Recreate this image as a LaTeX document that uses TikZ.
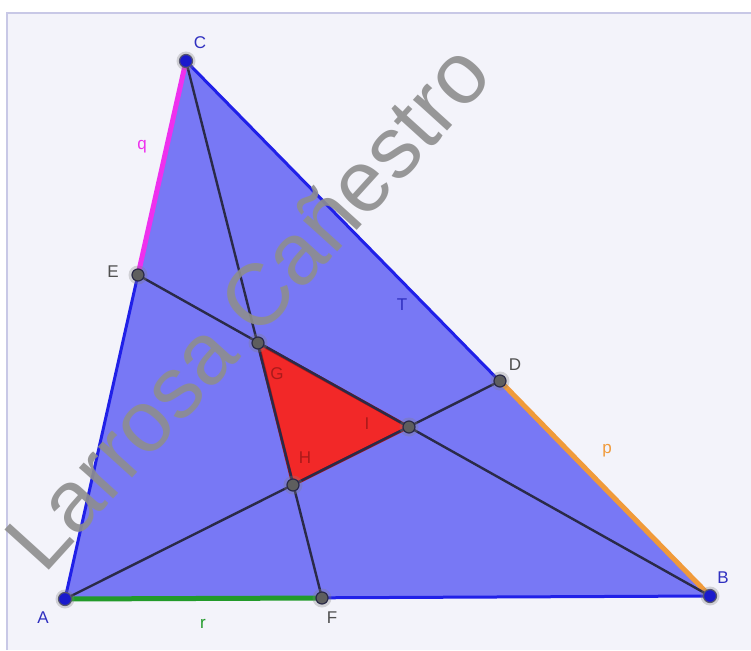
\documentclass[tikz,border=0pt]{standalone}
\usepackage{fontspec}
\setmainfont{Liberation Sans}
\usetikzlibrary{calc}
\definecolor{bgc}{HTML}{F3F3FA}
\definecolor{framec}{HTML}{C8C8E6}
\definecolor{trifill}{HTML}{7878F5}
\definecolor{triedge}{HTML}{2020E8}
\definecolor{segq}{HTML}{EE30EE}
\definecolor{segp}{HTML}{F09A3A}
\definecolor{segr}{HTML}{229A2A}
\definecolor{redfill}{HTML}{F22828}
\definecolor{rededge}{HTML}{B01818}
\definecolor{cevc}{HTML}{2A2A48}
\definecolor{ptblue}{HTML}{1A1ACC}
\definecolor{ptgray}{HTML}{5E5E5E}
\definecolor{lblblue}{HTML}{3030C0}
\definecolor{lblgray}{HTML}{505050}
\definecolor{wmc}{HTML}{8E8E8E}
\tikzset{
  lbl/.style={inner sep=0pt, font=\fontsize{17}{17}\selectfont},
  cev/.style={draw=cevc, line width=2.4pt},
  bpt/.style={circle, fill=ptblue, draw=cevc!80, line width=1.2pt, inner sep=0pt, minimum size=13pt},
  gpt/.style={circle, fill=ptgray, draw=cevc, line width=1.2pt, inner sep=0pt, minimum size=12pt},
  halo/.style={circle, fill=gray, opacity=0.3, inner sep=0pt, minimum size=19pt},
}
\begin{document}
\begin{tikzpicture}[x=1pt,y=-1pt]
\useasboundingbox (0,0) rectangle (751,650);
\fill[white] (0,0) rectangle (751,650);
\fill[bgc] (7,13) rectangle (751,650);
\draw[framec, line width=2pt] (7,650) -- (7,13) -- (751,13);
% coordinates
\coordinate (A) at (65,599);
\coordinate (B) at (710,596);
\coordinate (C) at (186,61);
\coordinate (D) at (500,381);
\coordinate (E) at (138,275);
\coordinate (F) at (322,598);
\coordinate (G) at (258,343);
\coordinate (H) at (293,485);
\coordinate (I) at (409,427);
% main triangle
\fill[trifill] (A) -- (B) -- (C) -- cycle;
\draw[triedge, line width=3pt, line join=round] (A) -- (B) -- (C) -- cycle;
% coloured segments
\draw[segq, line width=5pt] (C) -- (E);
\draw[segp, line width=5pt] (D) -- (B);
\draw[segr, line width=5pt] (A) -- (F);
% red triangle
\fill[redfill] (G) -- (H) -- (I) -- cycle;
\draw[rededge, line width=3pt, line join=round] (G) -- (H) -- (I) -- cycle;
% cevians
\draw[cev] (C) -- (F);
\draw[cev] (A) -- (D);
\draw[cev] (B) -- (E);
% watermark
\node[text=wmc, opacity=0.9, rotate=47.8, inner sep=0pt, font=\fontsize{87}{87}\selectfont] (wm) at (247,306) {Larrosa Cañestro};
% points
\foreach \p in {A,B,C}{\node[halo] at (\p) {};\node[bpt] (p\p) at (\p) {};}
\foreach \p in {D,E,F,G,H,I}{\node[halo] at (\p) {};\node[gpt] (p\p) at (\p) {};}
% labels
\node[lbl, text=lblblue] (lA) at (43,618) {A};
\node[lbl, text=lblblue] (lB) at (723,578) {B};
\node[lbl, text=lblblue] (lC) at (200,43) {C};
\node[lbl, text=lblgray] (lD) at (515,365) {D};
\node[lbl, text=lblgray] (lE) at (113,272) {E};
\node[lbl, text=lblgray] (lF) at (332,618) {F};
\node[lbl, text=rededge!70!black, opacity=0.6] (lG) at (277,374) {G};
\node[lbl, text=rededge!70!black, opacity=0.6] (lH) at (305,458) {H};
\node[lbl, text=rededge!70!black, opacity=0.6] (lI) at (367,424) {I};
\node[lbl, text=lblblue] (lT) at (402,305) {T};
\node[lbl, text=segp] (lp) at (607,451) {p};
\node[lbl, text=segq] (lq) at (142,147) {q};
\node[lbl, text=segr] (lr) at (203,624) {r};
\end{tikzpicture}
\end{document}
